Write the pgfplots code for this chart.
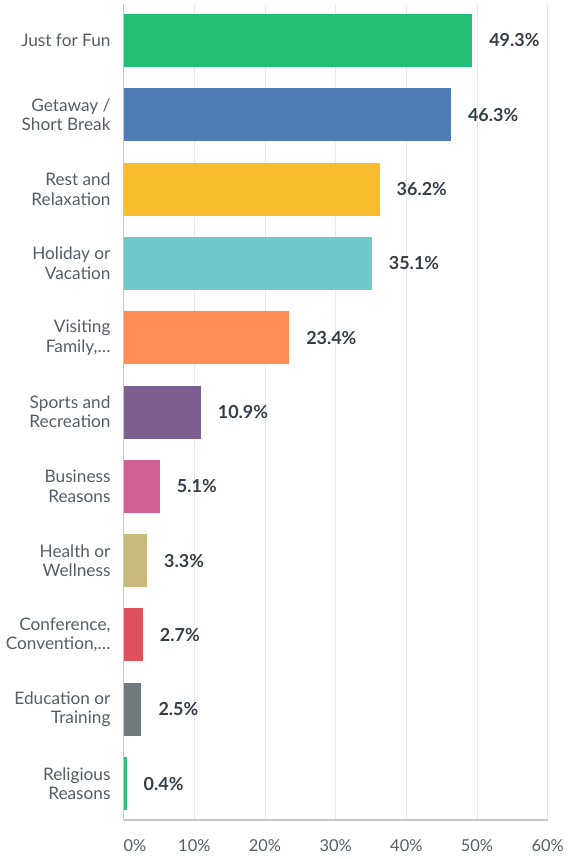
\documentclass[border=0pt]{standalone}
\usepackage{fontspec}
\setmainfont{Lato}
\usepackage{pgfplots}
\pgfplotsset{compat=1.18}
\definecolor{cA}{HTML}{21BF73}
\definecolor{cB}{HTML}{507CB6}
\definecolor{cC}{HTML}{F8BD2C}
\definecolor{cD}{HTML}{6FC9CB}
\definecolor{cE}{HTML}{FF8D55}
\definecolor{cF}{HTML}{7D5E90}
\definecolor{cG}{HTML}{D15F93}
\definecolor{cH}{HTML}{C9B97D}
\definecolor{cI}{HTML}{DF4F5C}
\definecolor{cJ}{HTML}{6F7980}
\definecolor{cK}{HTML}{2DC17B}
\definecolor{lbl}{HTML}{555E66}
\definecolor{val}{HTML}{333E48}
\begin{document}
\begin{tikzpicture}
\useasboundingbox (0,0) rectangle (585bp,859bp);
\begin{axis}[
  scale only axis,
  anchor=south west,
  at={(123.7bp,39bp)},
  width=424bp, height=816bp,
  xmin=0, xmax=60,
  ymin=-0.49, ymax=10.49,
  y dir=reverse,
  xbar, bar width=53bp, bar shift=0pt,
  axis lines*=left,
  axis line style={draw=black!22, line width=1.2bp},
  xmajorgrids, grid style={draw=black!9, line width=1bp},
  major tick length=0pt,
  /pgf/number format/assume math mode=true,
  xtick={0,10,20,30,40,50,60},
  xticklabels={\makebox[0pt][l]{0\%},10\%,20\%,30\%,40\%,50\%,60\%},
  xticklabel style={font=\fontsize{16.5}{19}\selectfont, text=lbl, inner sep=0pt, anchor=north, yshift=-19bp},
  ytick={0,1,2,3,4,5,6,7,8,9,10},
  yticklabels={{Just for Fun},{Getaway /\\Short Break},{Rest and\\Relaxation},{Holiday or\\Vacation},{Visiting\\Family,\textellipsis},{Sports and\\Recreation},{Business\\Reasons},{Health or\\Wellness},{Conference,\\Convention,\textellipsis},{Education or\\Training},{Religious\\Reasons}},
  yticklabel style={font=\fontsize{17.3}{19.5}\selectfont, text=lbl, align=right, inner sep=0pt, anchor=east, xshift=-13bp},
  nodes near coords={\pgfmathprintnumber[fixed,precision=1,fixed zerofill,assume math mode=true]{\pgfplotspointmeta}\%},
  every node near coord/.append style={font=\bfseries\fontsize{18}{19}\selectfont, text=val, anchor=west, inner sep=0pt, xshift=17bp},
  clip=false,
]
\addplot[fill=cA, draw=none] coordinates {(49.3,0)};
\addplot[fill=cB, draw=none] coordinates {(46.3,1)};
\addplot[fill=cC, draw=none] coordinates {(36.2,2)};
\addplot[fill=cD, draw=none] coordinates {(35.1,3)};
\addplot[fill=cE, draw=none] coordinates {(23.4,4)};
\addplot[fill=cF, draw=none] coordinates {(10.9,5)};
\addplot[fill=cG, draw=none] coordinates {(5.1,6)};
\addplot[fill=cH, draw=none] coordinates {(3.3,7)};
\addplot[fill=cI, draw=none] coordinates {(2.7,8)};
\addplot[fill=cJ, draw=none] coordinates {(2.5,9)};
\addplot[fill=cK, draw=none] coordinates {(0.4,10)};
\end{axis}
\end{tikzpicture}
\end{document}
